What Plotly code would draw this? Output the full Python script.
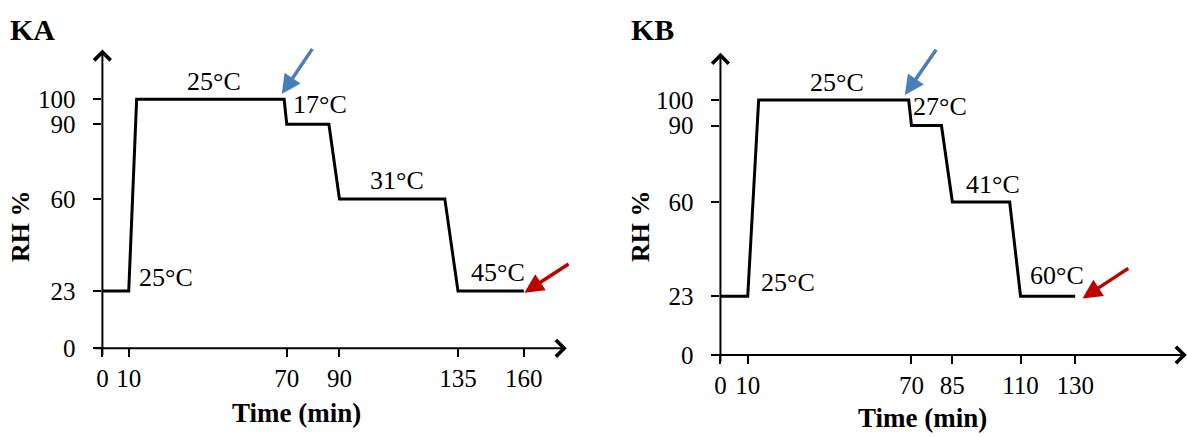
import plotly.graph_objects as go

# ---- data ----
ka_time = [0, 10, 13, 69, 70, 86, 90, 130, 135, 160]
ka_rh = [23, 23, 100, 100, 90, 90, 60, 60, 23, 23]
ka_xticks = [0, 10, 70, 90, 135, 160]

kb_time = [0, 10, 14, 69, 70, 81, 85, 106, 110, 130]
kb_rh = [23, 23, 100, 100, 90, 90, 60, 60, 23, 23]
kb_xticks = [0, 10, 70, 85, 110, 130]

y_ticks = [0, 23, 60, 90, 100]

ka_temps = ["25°C", "17°C", "31°C", "25°C", "45°C"]
kb_temps = ["25°C", "27°C", "41°C", "25°C", "60°C"]
panel_titles = ["KA", "KB"]

# label placement (time, RH) for each temperature label
ka_temp_pos = [(42.4, 107.3), (82.6, 98.1), (111.8, 67.2), (24.1, 28.6), (150.2, 30.6)]
kb_temp_pos = [(42.7, 106.7), (80.4, 97.6), (99.8, 66.7), (24.7, 28.6), (123.3, 31.0)]

FONT = "Liberation Serif"
W, H = 1187, 437

fig = go.Figure()
fig.add_trace(go.Scatter(x=ka_time, y=ka_rh, mode="lines",
                         line=dict(color="black", width=3), xaxis="x", yaxis="y",
                         showlegend=False, hoverinfo="skip"))
fig.add_trace(go.Scatter(x=kb_time, y=kb_rh, mode="lines",
                         line=dict(color="black", width=3), xaxis="x2", yaxis="y2",
                         showlegend=False, hoverinfo="skip"))

common_x = dict(showgrid=False, zeroline=False, showline=False, ticks="outside",
                ticklen=8, tickwidth=2, tickcolor="black", automargin=False,
                tickfont=dict(family=FONT, size=25, color="black"),
                ticklabelstandoff=0, fixedrange=True)
common_y = dict(showgrid=False, zeroline=False, showline=False, ticks="outside",
                ticklen=8, tickwidth=2, tickcolor="black", automargin=False,
                tickfont=dict(family=FONT, size=25, color="black"),
                ticklabelstandoff=13, fixedrange=True, range=[0, 125],
                tickmode="array", tickvals=y_ticks, ticktext=[str(v) for v in y_ticks])

fig.update_layout(
    width=W, height=H, margin=dict(l=0, r=0, t=0, b=0),
    plot_bgcolor="white", paper_bgcolor="white",
    xaxis=dict(common_x, domain=[102.4 / W, 576.5 / W], range=[0, 180],
               tickmode="array", tickvals=ka_xticks, ticktext=[str(v) for v in ka_xticks],
               anchor="y"),
    yaxis=dict(common_y, domain=[1 - 348.3 / H, 1 - 37.05 / H], anchor="x"),
    xaxis2=dict(common_x, domain=[720.45 / W, 1.0], range=[0, 171],
                tickmode="array", tickvals=kb_xticks, ticktext=[str(v) for v in kb_xticks],
                anchor="y2"),
    yaxis2=dict(common_y, domain=[1 - 355 / H, 1 - 36.25 / H], anchor="x2"),
)

ann = []
# axis arrows
for xr, yr, xmin, xmax, ytop in [("x", "y", -3.6, 176.3, 120), ("x2", "y2", -4, 170.9, 118.5)]:
    ann.append(dict(x=xmax, y=0, ax=xmin, ay=0, xref=xr, yref=yr, axref=xr, ayref=yr,
                    showarrow=True, arrowhead=4, arrowsize=1.6, arrowwidth=2,
                    arrowcolor="black", text="", standoff=0))
    ann.append(dict(x=0, y=ytop, ax=0, ay=-3.2, xref=xr, yref=yr, axref=xr, ayref=yr,
                    showarrow=True, arrowhead=4, arrowsize=1.6, arrowwidth=2,
                    arrowcolor="black", text="", standoff=0))

# temperature labels
for xr, yr, temps, pos in [("x", "y", ka_temps, ka_temp_pos), ("x2", "y2", kb_temps, kb_temp_pos)]:
    for t, (px, py) in zip(temps, pos):
        ann.append(dict(x=px, y=py, xref=xr, yref=yr, text=t, showarrow=False,
                        xanchor="center", yanchor="middle",
                        font=dict(family=FONT, size=26, color="black")))

# blue / red pointer arrows
for xr, yr, tip, off, col in [
    ("x", "y", (68.1, 102.1), (31.6, -46.7), "#4A7EBB"),
    ("x", "y", (160.2, 22.3), (45.7, -29.7), "#C00000"),
    ("x2", "y2", (67.6, 102.0), (32.3, -46.7), "#4A7EBB"),
    ("x2", "y2", (132.7, 22.2), (47.3, -31.0), "#C00000"),
]:
    ann.append(dict(x=tip[0], y=tip[1], ax=off[0], ay=off[1], xref=xr, yref=yr,
                    showarrow=True, arrowhead=2, arrowsize=1.1, arrowwidth=3.5,
                    arrowcolor=col, text="", standoff=0))

# axis titles and panel titles (paper coords)
def px2paper(px, py):
    return px / W, 1 - py / H

for (cx, cy), txt in [((297, 413), "Time (min)"), ((922, 418), "Time (min)")]:
    x, y = px2paper(cx, cy)
    ann.append(dict(x=x, y=y, xref="paper", yref="paper", text="<b>" + txt + "</b>",
                    showarrow=False, xanchor="center", yanchor="middle",
                    font=dict(family=FONT, size=27, color="black")))
for (cx, cy), txt in [((20, 226), "RH %"), ((640, 226), "RH %")]:
    x, y = px2paper(cx, cy)
    ann.append(dict(x=x, y=y, xref="paper", yref="paper", text="<b>" + txt + "</b>",
                    showarrow=False, textangle=-90, xanchor="center", yanchor="middle",
                    font=dict(family=FONT, size=26, color="black")))
for (cx, cy), txt in [((32, 29), panel_titles[0]), ((652, 29), panel_titles[1])]:
    x, y = px2paper(cx, cy)
    ann.append(dict(x=x, y=y, xref="paper", yref="paper", text="<b>" + txt + "</b>",
                    showarrow=False, xanchor="center", yanchor="middle",
                    font=dict(family=FONT, size=30, color="black")))

fig.update_layout(annotations=ann)
fig.write_html("out.html", config={"displayModeBar": False},
               post_script="document.body.style.margin='0px';document.body.style.overflow='hidden';")
